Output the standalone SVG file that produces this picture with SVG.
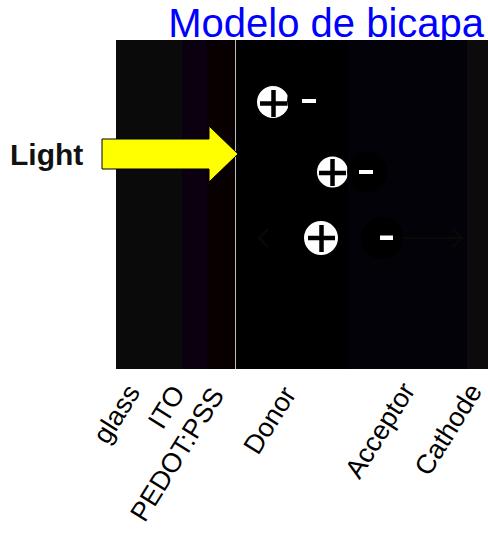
<svg xmlns="http://www.w3.org/2000/svg" width="488" height="535" viewBox="0 0 488 535">
  <style>
    .title { font-family: "Liberation Sans", Arial, sans-serif; font-size: 40px; fill: #0000ff; }
    .light { font-family: "Liberation Sans", Arial, sans-serif; font-size: 30px; font-weight: bold; fill: #111111; }
    .layer { font-family: "Liberation Sans", Arial, sans-serif; font-size: 27px; fill: #000000; text-anchor: end; }
    .hole { fill: #ffffff; }
    .plus { fill: none; stroke: #000000; stroke-width: 4.5; }
    .minus { fill: #ffffff; }
    .shadow { fill: #000000; }
    .faint { fill: none; stroke: #090909; stroke-width: 2; }
  </style>

  <rect width="488" height="535" fill="#ffffff"/>

  <text class="title" x="484" y="37" text-anchor="end">Modelo de bicapa</text>

  <!-- device stack, left to right -->
  <g id="stack">
    <rect id="glass" x="116" y="40" width="66" height="329" fill="#0a0a0a"/>
    <rect id="ito" x="182" y="40" width="25" height="329" fill="#0a0010"/>
    <rect id="pedot" x="207" y="40" width="28" height="329" fill="#080000"/>
    <rect id="donor" x="235" y="40" width="113" height="329" fill="#000000"/>
    <rect id="acceptor" x="348" y="40" width="119" height="329" fill="#020208"/>
    <rect id="cathode" x="467" y="40" width="21" height="329" fill="#0d0a0b"/>
    <line x1="235.5" y1="40" x2="235.5" y2="369" stroke="#bdbdbd" stroke-width="1"/>
  </g>

  <!-- incoming light -->
  <g id="light">
    <text class="light" x="10" y="165">Light</text>
    <polygon points="102,139 209,139 209,126 238,154 209,182 209,169 102,169" fill="#ffff00" stroke="#000000" stroke-width="1"/>
  </g>

  <!-- bound pair in the donor -->
  <g id="pair1">
    <circle class="hole" cx="273" cy="102" r="16"/>
    <path class="plus" d="M260,103.5 H287 M273.5,90 V117"/>
    <circle class="shadow" cx="308" cy="101" r="21"/>
    <rect class="minus" x="302" y="99" width="14" height="4"/>
  </g>

  <!-- pair at the interface -->
  <g id="pair2">
    <circle class="hole" cx="332.5" cy="172" r="15.5"/>
    <path class="plus" d="M319,173 H346 M332.5,159 V186"/>
    <circle class="shadow" cx="367" cy="172" r="20"/>
    <rect class="minus" x="359" y="170" width="14" height="4"/>
  </g>

  <!-- separated charges -->
  <g id="pair3">
    <circle class="hole" cx="321" cy="238" r="17"/>
    <path class="plus" d="M308,238 H335 M321.5,225 V252"/>
    <circle class="shadow" cx="382" cy="238" r="21"/>
    <rect class="minus" x="380" y="235.5" width="13" height="4.5"/>
  </g>

  <g id="connectors">
    <path class="faint" d="M268,229 L259,238 L268,247"/>
    <path class="faint" d="M403,238 H462 M453,229 L462,238 L453,247"/>
  </g>

  <!-- layer names -->
  <g id="labels">
    <text class="layer" transform="translate(141,392) rotate(-58)">glass</text>
    <text class="layer" transform="translate(186,393) rotate(-58)">ITO</text>
    <text class="layer" transform="translate(225,395) rotate(-58)">PEDOT:PSS</text>
    <text class="layer" transform="translate(297,394) rotate(-58)">Donor</text>
    <text class="layer" transform="translate(416,390) rotate(-58)">Acceptor</text>
    <text class="layer" transform="translate(483,391) rotate(-58)">Cathode</text>
  </g>
</svg>
